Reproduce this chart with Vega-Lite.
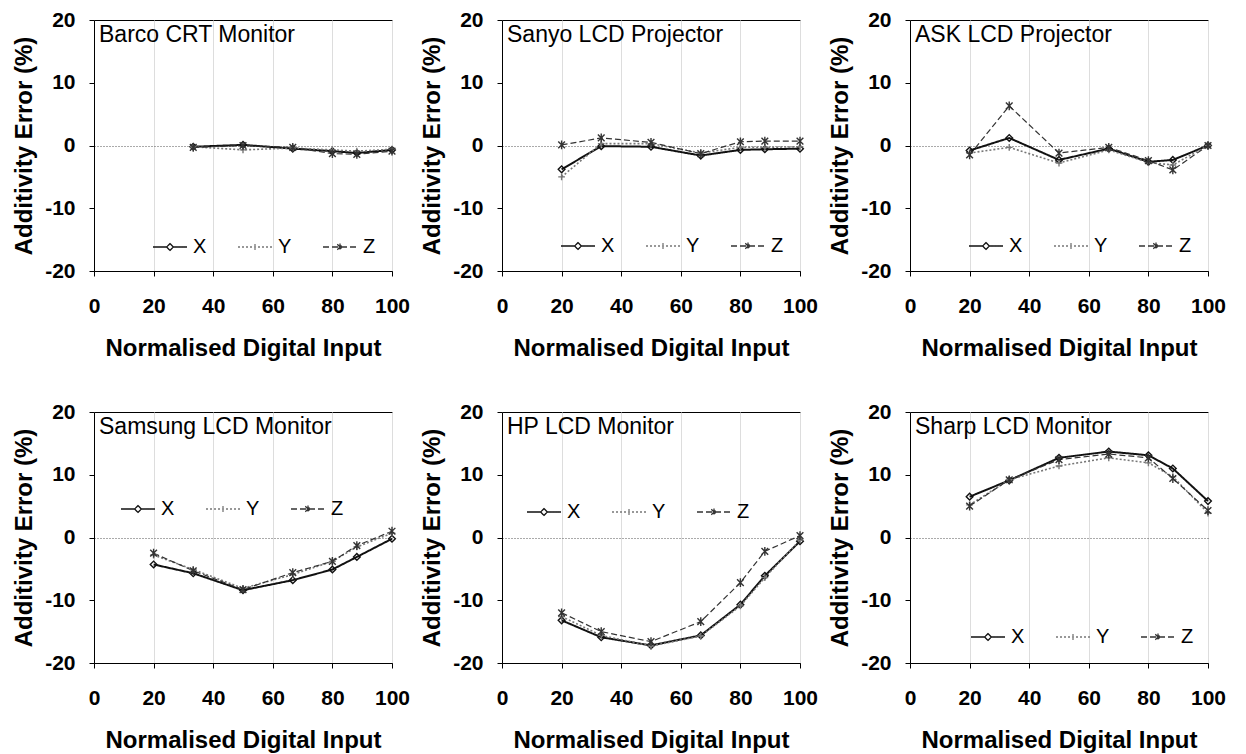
{
  "$schema": "https://vega.github.io/schema/vega-lite/v6.json",
  "background": "white",
  "padding": {"left": 12, "top": 8, "right": 4, "bottom": 0},
  "columns": 3,
  "spacing": {"row": 39, "column": 9},
  "datasets": {
    "d": [
      {"panel": "Barco CRT Monitor", "series": "X", "input": 33.3, "error": -0.2},
      {"panel": "Barco CRT Monitor", "series": "X", "input": 50, "error": 0.1},
      {"panel": "Barco CRT Monitor", "series": "X", "input": 66.7, "error": -0.5},
      {"panel": "Barco CRT Monitor", "series": "X", "input": 80, "error": -0.9},
      {"panel": "Barco CRT Monitor", "series": "X", "input": 88.2, "error": -1.2},
      {"panel": "Barco CRT Monitor", "series": "X", "input": 100, "error": -0.7},
      {"panel": "Barco CRT Monitor", "series": "Y", "input": 33.3, "error": -0.2},
      {"panel": "Barco CRT Monitor", "series": "Y", "input": 50, "error": -0.7},
      {"panel": "Barco CRT Monitor", "series": "Y", "input": 66.7, "error": -0.4},
      {"panel": "Barco CRT Monitor", "series": "Y", "input": 80, "error": -0.7},
      {"panel": "Barco CRT Monitor", "series": "Y", "input": 88.2, "error": -0.9},
      {"panel": "Barco CRT Monitor", "series": "Y", "input": 100, "error": -0.6},
      {"panel": "Barco CRT Monitor", "series": "Z", "input": 33.3, "error": -0.3},
      {"panel": "Barco CRT Monitor", "series": "Z", "input": 50, "error": 0.0},
      {"panel": "Barco CRT Monitor", "series": "Z", "input": 66.7, "error": -0.3},
      {"panel": "Barco CRT Monitor", "series": "Z", "input": 80, "error": -1.3},
      {"panel": "Barco CRT Monitor", "series": "Z", "input": 88.2, "error": -1.4},
      {"panel": "Barco CRT Monitor", "series": "Z", "input": 100, "error": -0.9},

      {"panel": "Sanyo LCD Projector", "series": "X", "input": 20, "error": -3.8},
      {"panel": "Sanyo LCD Projector", "series": "X", "input": 33.3, "error": -0.1},
      {"panel": "Sanyo LCD Projector", "series": "X", "input": 50, "error": -0.2},
      {"panel": "Sanyo LCD Projector", "series": "X", "input": 66.7, "error": -1.6},
      {"panel": "Sanyo LCD Projector", "series": "X", "input": 80, "error": -0.7},
      {"panel": "Sanyo LCD Projector", "series": "X", "input": 88.2, "error": -0.6},
      {"panel": "Sanyo LCD Projector", "series": "X", "input": 100, "error": -0.5},
      {"panel": "Sanyo LCD Projector", "series": "Y", "input": 20, "error": -5.0},
      {"panel": "Sanyo LCD Projector", "series": "Y", "input": 33.3, "error": 0.3},
      {"panel": "Sanyo LCD Projector", "series": "Y", "input": 50, "error": 0.3},
      {"panel": "Sanyo LCD Projector", "series": "Y", "input": 66.7, "error": -1.2},
      {"panel": "Sanyo LCD Projector", "series": "Y", "input": 80, "error": -0.3},
      {"panel": "Sanyo LCD Projector", "series": "Y", "input": 88.2, "error": -0.3},
      {"panel": "Sanyo LCD Projector", "series": "Y", "input": 100, "error": -0.2},
      {"panel": "Sanyo LCD Projector", "series": "Z", "input": 20, "error": 0.1},
      {"panel": "Sanyo LCD Projector", "series": "Z", "input": 33.3, "error": 1.2},
      {"panel": "Sanyo LCD Projector", "series": "Z", "input": 50, "error": 0.5},
      {"panel": "Sanyo LCD Projector", "series": "Z", "input": 66.7, "error": -1.3},
      {"panel": "Sanyo LCD Projector", "series": "Z", "input": 80, "error": 0.6},
      {"panel": "Sanyo LCD Projector", "series": "Z", "input": 88.2, "error": 0.7},
      {"panel": "Sanyo LCD Projector", "series": "Z", "input": 100, "error": 0.7},

      {"panel": "ASK LCD Projector", "series": "X", "input": 20, "error": -0.8},
      {"panel": "ASK LCD Projector", "series": "X", "input": 33.3, "error": 1.2},
      {"panel": "ASK LCD Projector", "series": "X", "input": 50, "error": -2.3},
      {"panel": "ASK LCD Projector", "series": "X", "input": 66.7, "error": -0.5},
      {"panel": "ASK LCD Projector", "series": "X", "input": 80, "error": -2.6},
      {"panel": "ASK LCD Projector", "series": "X", "input": 88.2, "error": -2.3},
      {"panel": "ASK LCD Projector", "series": "X", "input": 100, "error": 0.0},
      {"panel": "ASK LCD Projector", "series": "Y", "input": 20, "error": -1.2},
      {"panel": "ASK LCD Projector", "series": "Y", "input": 33.3, "error": -0.3},
      {"panel": "ASK LCD Projector", "series": "Y", "input": 50, "error": -2.8},
      {"panel": "ASK LCD Projector", "series": "Y", "input": 66.7, "error": -0.7},
      {"panel": "ASK LCD Projector", "series": "Y", "input": 80, "error": -2.7},
      {"panel": "ASK LCD Projector", "series": "Y", "input": 88.2, "error": -3.1},
      {"panel": "ASK LCD Projector", "series": "Y", "input": 100, "error": 0.0},
      {"panel": "ASK LCD Projector", "series": "Z", "input": 20, "error": -1.5},
      {"panel": "ASK LCD Projector", "series": "Z", "input": 33.3, "error": 6.3},
      {"panel": "ASK LCD Projector", "series": "Z", "input": 50, "error": -1.2},
      {"panel": "ASK LCD Projector", "series": "Z", "input": 66.7, "error": -0.3},
      {"panel": "ASK LCD Projector", "series": "Z", "input": 80, "error": -2.4},
      {"panel": "ASK LCD Projector", "series": "Z", "input": 88.2, "error": -3.9},
      {"panel": "ASK LCD Projector", "series": "Z", "input": 100, "error": 0.0},

      {"panel": "Samsung LCD Monitor", "series": "X", "input": 20, "error": -4.3},
      {"panel": "Samsung LCD Monitor", "series": "X", "input": 33.3, "error": -5.7},
      {"panel": "Samsung LCD Monitor", "series": "X", "input": 50, "error": -8.4},
      {"panel": "Samsung LCD Monitor", "series": "X", "input": 66.7, "error": -6.8},
      {"panel": "Samsung LCD Monitor", "series": "X", "input": 80, "error": -5.1},
      {"panel": "Samsung LCD Monitor", "series": "X", "input": 88.2, "error": -3.1},
      {"panel": "Samsung LCD Monitor", "series": "X", "input": 100, "error": -0.2},
      {"panel": "Samsung LCD Monitor", "series": "Y", "input": 20, "error": -2.8},
      {"panel": "Samsung LCD Monitor", "series": "Y", "input": 33.3, "error": -5.1},
      {"panel": "Samsung LCD Monitor", "series": "Y", "input": 50, "error": -8.1},
      {"panel": "Samsung LCD Monitor", "series": "Y", "input": 66.7, "error": -5.9},
      {"panel": "Samsung LCD Monitor", "series": "Y", "input": 80, "error": -3.8},
      {"panel": "Samsung LCD Monitor", "series": "Y", "input": 88.2, "error": -1.5},
      {"panel": "Samsung LCD Monitor", "series": "Y", "input": 100, "error": 0.7},
      {"panel": "Samsung LCD Monitor", "series": "Z", "input": 20, "error": -2.5},
      {"panel": "Samsung LCD Monitor", "series": "Z", "input": 33.3, "error": -5.3},
      {"panel": "Samsung LCD Monitor", "series": "Z", "input": 50, "error": -8.3},
      {"panel": "Samsung LCD Monitor", "series": "Z", "input": 66.7, "error": -5.6},
      {"panel": "Samsung LCD Monitor", "series": "Z", "input": 80, "error": -3.8},
      {"panel": "Samsung LCD Monitor", "series": "Z", "input": 88.2, "error": -1.3},
      {"panel": "Samsung LCD Monitor", "series": "Z", "input": 100, "error": 1.0},

      {"panel": "HP LCD Monitor", "series": "X", "input": 20, "error": -13.2},
      {"panel": "HP LCD Monitor", "series": "X", "input": 33.3, "error": -15.9},
      {"panel": "HP LCD Monitor", "series": "X", "input": 50, "error": -17.2},
      {"panel": "HP LCD Monitor", "series": "X", "input": 66.7, "error": -15.6},
      {"panel": "HP LCD Monitor", "series": "X", "input": 80, "error": -10.7},
      {"panel": "HP LCD Monitor", "series": "X", "input": 88.2, "error": -6.1},
      {"panel": "HP LCD Monitor", "series": "X", "input": 100, "error": -0.6},
      {"panel": "HP LCD Monitor", "series": "Y", "input": 20, "error": -12.6},
      {"panel": "HP LCD Monitor", "series": "Y", "input": 33.3, "error": -15.6},
      {"panel": "HP LCD Monitor", "series": "Y", "input": 50, "error": -17.3},
      {"panel": "HP LCD Monitor", "series": "Y", "input": 66.7, "error": -15.7},
      {"panel": "HP LCD Monitor", "series": "Y", "input": 80, "error": -10.9},
      {"panel": "HP LCD Monitor", "series": "Y", "input": 88.2, "error": -6.4},
      {"panel": "HP LCD Monitor", "series": "Y", "input": 100, "error": -0.4},
      {"panel": "HP LCD Monitor", "series": "Z", "input": 20, "error": -12.0},
      {"panel": "HP LCD Monitor", "series": "Z", "input": 33.3, "error": -15.0},
      {"panel": "HP LCD Monitor", "series": "Z", "input": 50, "error": -16.6},
      {"panel": "HP LCD Monitor", "series": "Z", "input": 66.7, "error": -13.4},
      {"panel": "HP LCD Monitor", "series": "Z", "input": 80, "error": -7.2},
      {"panel": "HP LCD Monitor", "series": "Z", "input": 88.2, "error": -2.2},
      {"panel": "HP LCD Monitor", "series": "Z", "input": 100, "error": 0.3},

      {"panel": "Sharp LCD Monitor", "series": "X", "input": 20, "error": 6.5},
      {"panel": "Sharp LCD Monitor", "series": "X", "input": 33.3, "error": 9.1},
      {"panel": "Sharp LCD Monitor", "series": "X", "input": 50, "error": 12.7},
      {"panel": "Sharp LCD Monitor", "series": "X", "input": 66.7, "error": 13.7},
      {"panel": "Sharp LCD Monitor", "series": "X", "input": 80, "error": 13.1},
      {"panel": "Sharp LCD Monitor", "series": "X", "input": 88.2, "error": 11.0},
      {"panel": "Sharp LCD Monitor", "series": "X", "input": 100, "error": 5.8},
      {"panel": "Sharp LCD Monitor", "series": "Y", "input": 20, "error": 5.2},
      {"panel": "Sharp LCD Monitor", "series": "Y", "input": 33.3, "error": 9.2},
      {"panel": "Sharp LCD Monitor", "series": "Y", "input": 50, "error": 11.4},
      {"panel": "Sharp LCD Monitor", "series": "Y", "input": 66.7, "error": 12.7},
      {"panel": "Sharp LCD Monitor", "series": "Y", "input": 80, "error": 11.9},
      {"panel": "Sharp LCD Monitor", "series": "Y", "input": 88.2, "error": 9.7},
      {"panel": "Sharp LCD Monitor", "series": "Y", "input": 100, "error": 3.9},
      {"panel": "Sharp LCD Monitor", "series": "Z", "input": 20, "error": 5.0},
      {"panel": "Sharp LCD Monitor", "series": "Z", "input": 33.3, "error": 9.2},
      {"panel": "Sharp LCD Monitor", "series": "Z", "input": 50, "error": 12.4},
      {"panel": "Sharp LCD Monitor", "series": "Z", "input": 66.7, "error": 13.3},
      {"panel": "Sharp LCD Monitor", "series": "Z", "input": 80, "error": 12.7},
      {"panel": "Sharp LCD Monitor", "series": "Z", "input": 88.2, "error": 9.4},
      {"panel": "Sharp LCD Monitor", "series": "Z", "input": 100, "error": 4.3}
    ]
  },
  "data": {"name": "d"},
  "resolve": {
    "scale": {"color": "independent", "shape": "independent", "strokeDash": "independent", "strokeWidth": "independent"},
    "legend": {"color": "independent", "shape": "independent", "strokeDash": "independent"}
  },
  "concat": [
    {
      "title": "Barco CRT Monitor",
      "width": 298, "height": 251,
      "transform": [{"filter": "datum.panel === 'Barco CRT Monitor'"}],
      "encoding": {
        "x": {"field": "input", "type": "quantitative", "title": "Normalised Digital Input", "scale": {"domain": [0, 100], "nice": false}, "axis": {"values": [0, 20, 40, 60, 80, 100], "labelExpr": "'' + datum.value"}},
        "y": {"field": "error", "type": "quantitative", "title": "Additivity Error (%)", "scale": {"domain": [-20, 20], "nice": false}, "axis": {"values": [-20, -10, 0, 10, 20], "labelExpr": "'' + datum.value", "grid": true, "gridDash": [1, 2], "gridColor": "#555", "gridOpacity": {"condition": {"test": "datum.value === 0", "value": 1}, "value": 0}}}
      },
      "layer": [
        {"mark": {"type": "line"}, "encoding": {
          "color": {"field": "series", "type": "nominal", "scale": {"domain": ["X", "Y", "Z"], "range": ["#111", "#777", "#333"]}, "legend": null},
          "strokeDash": {"field": "series", "type": "nominal", "scale": {"domain": ["X", "Y", "Z"], "range": [[1, 0], [2, 2], [6, 3]]}, "legend": null},
          "strokeWidth": {"field": "series", "type": "nominal", "scale": {"domain": ["X", "Y", "Z"], "range": [2, 1.2, 1.3]}, "legend": null}
        }},
        {"mark": {"type": "point", "filled": false, "size": 45, "strokeWidth": 1.4, "opacity": 1}, "encoding": {
          "shape": {"field": "series", "type": "nominal", "scale": {"domain": ["X", "Y", "Z"], "range": ["diamond", "M-1,0L1,0M0,-1L0,1", "M-1,-1L1,1M-1,1L1,-1M0,-1.3L0,1.3"]}, "legend": null},
          "color": {"field": "series", "type": "nominal", "scale": {"domain": ["X", "Y", "Z"], "range": ["#111", "#777", "#333"]}, "legend": null}
        }},
        {"mark": {"type": "point", "filled": false, "opacity": 0}, "encoding": {
          "shape": {"field": "series", "type": "nominal", "title": null, "scale": {"domain": ["X", "Y", "Z"], "range": ["M-1,0L-0.2,0M0.2,0L1,0M0,-0.2L0.2,0L0,0.2L-0.2,0Z", "M-1,0L1,0M0,-0.17L0,0.17", "M-1,0L1,0M-0.16,-0.16L0.16,0.16M-0.16,0.16L0.16,-0.16M0,-0.2L0,0.2"]}, "legend": {"legendX": 58, "legendY": 209}},
          "color": {"field": "series", "type": "nominal", "title": null, "scale": {"domain": ["X", "Y", "Z"], "range": ["#111", "#777", "#333"]}, "legend": {"legendX": 58, "legendY": 209}},
          "strokeDash": {"field": "series", "type": "nominal", "title": null, "scale": {"domain": ["X", "Y", "Z"], "range": [[1, 0], [2, 2], [6, 3]]}, "legend": {"legendX": 58, "legendY": 209}}
        }}
      ],
      "resolve": {"scale": {"color": "independent", "shape": "independent", "strokeDash": "independent"}}
    },
    {
      "title": "Sanyo LCD Projector",
      "width": 298, "height": 251,
      "transform": [{"filter": "datum.panel === 'Sanyo LCD Projector'"}],
      "encoding": {
        "x": {"field": "input", "type": "quantitative", "title": "Normalised Digital Input", "scale": {"domain": [0, 100], "nice": false}, "axis": {"values": [0, 20, 40, 60, 80, 100], "labelExpr": "'' + datum.value"}},
        "y": {"field": "error", "type": "quantitative", "title": "Additivity Error (%)", "scale": {"domain": [-20, 20], "nice": false}, "axis": {"values": [-20, -10, 0, 10, 20], "labelExpr": "'' + datum.value", "grid": true, "gridDash": [1, 2], "gridColor": "#555", "gridOpacity": {"condition": {"test": "datum.value === 0", "value": 1}, "value": 0}}}
      },
      "layer": [
        {"mark": {"type": "line"}, "encoding": {
          "color": {"field": "series", "type": "nominal", "scale": {"domain": ["X", "Y", "Z"], "range": ["#111", "#777", "#333"]}, "legend": null},
          "strokeDash": {"field": "series", "type": "nominal", "scale": {"domain": ["X", "Y", "Z"], "range": [[1, 0], [2, 2], [6, 3]]}, "legend": null},
          "strokeWidth": {"field": "series", "type": "nominal", "scale": {"domain": ["X", "Y", "Z"], "range": [2, 1.2, 1.3]}, "legend": null}
        }},
        {"mark": {"type": "point", "filled": false, "size": 45, "strokeWidth": 1.4, "opacity": 1}, "encoding": {
          "shape": {"field": "series", "type": "nominal", "scale": {"domain": ["X", "Y", "Z"], "range": ["diamond", "M-1,0L1,0M0,-1L0,1", "M-1,-1L1,1M-1,1L1,-1M0,-1.3L0,1.3"]}, "legend": null},
          "color": {"field": "series", "type": "nominal", "scale": {"domain": ["X", "Y", "Z"], "range": ["#111", "#777", "#333"]}, "legend": null}
        }},
        {"mark": {"type": "point", "filled": false, "opacity": 0}, "encoding": {
          "shape": {"field": "series", "type": "nominal", "title": null, "scale": {"domain": ["X", "Y", "Z"], "range": ["M-1,0L-0.2,0M0.2,0L1,0M0,-0.2L0.2,0L0,0.2L-0.2,0Z", "M-1,0L1,0M0,-0.17L0,0.17", "M-1,0L1,0M-0.16,-0.16L0.16,0.16M-0.16,0.16L0.16,-0.16M0,-0.2L0,0.2"]}, "legend": {"legendX": 58, "legendY": 208}},
          "color": {"field": "series", "type": "nominal", "title": null, "scale": {"domain": ["X", "Y", "Z"], "range": ["#111", "#777", "#333"]}, "legend": {"legendX": 58, "legendY": 208}},
          "strokeDash": {"field": "series", "type": "nominal", "title": null, "scale": {"domain": ["X", "Y", "Z"], "range": [[1, 0], [2, 2], [6, 3]]}, "legend": {"legendX": 58, "legendY": 208}}
        }}
      ],
      "resolve": {"scale": {"color": "independent", "shape": "independent", "strokeDash": "independent"}}
    },
    {
      "title": "ASK LCD Projector",
      "width": 298, "height": 251,
      "transform": [{"filter": "datum.panel === 'ASK LCD Projector'"}],
      "encoding": {
        "x": {"field": "input", "type": "quantitative", "title": "Normalised Digital Input", "scale": {"domain": [0, 100], "nice": false}, "axis": {"values": [0, 20, 40, 60, 80, 100], "labelExpr": "'' + datum.value"}},
        "y": {"field": "error", "type": "quantitative", "title": "Additivity Error (%)", "scale": {"domain": [-20, 20], "nice": false}, "axis": {"values": [-20, -10, 0, 10, 20], "labelExpr": "'' + datum.value", "grid": true, "gridDash": [1, 2], "gridColor": "#555", "gridOpacity": {"condition": {"test": "datum.value === 0", "value": 1}, "value": 0}}}
      },
      "layer": [
        {"mark": {"type": "line"}, "encoding": {
          "color": {"field": "series", "type": "nominal", "scale": {"domain": ["X", "Y", "Z"], "range": ["#111", "#777", "#333"]}, "legend": null},
          "strokeDash": {"field": "series", "type": "nominal", "scale": {"domain": ["X", "Y", "Z"], "range": [[1, 0], [2, 2], [6, 3]]}, "legend": null},
          "strokeWidth": {"field": "series", "type": "nominal", "scale": {"domain": ["X", "Y", "Z"], "range": [2, 1.2, 1.3]}, "legend": null}
        }},
        {"mark": {"type": "point", "filled": false, "size": 45, "strokeWidth": 1.4, "opacity": 1}, "encoding": {
          "shape": {"field": "series", "type": "nominal", "scale": {"domain": ["X", "Y", "Z"], "range": ["diamond", "M-1,0L1,0M0,-1L0,1", "M-1,-1L1,1M-1,1L1,-1M0,-1.3L0,1.3"]}, "legend": null},
          "color": {"field": "series", "type": "nominal", "scale": {"domain": ["X", "Y", "Z"], "range": ["#111", "#777", "#333"]}, "legend": null}
        }},
        {"mark": {"type": "point", "filled": false, "opacity": 0}, "encoding": {
          "shape": {"field": "series", "type": "nominal", "title": null, "scale": {"domain": ["X", "Y", "Z"], "range": ["M-1,0L-0.2,0M0.2,0L1,0M0,-0.2L0.2,0L0,0.2L-0.2,0Z", "M-1,0L1,0M0,-0.17L0,0.17", "M-1,0L1,0M-0.16,-0.16L0.16,0.16M-0.16,0.16L0.16,-0.16M0,-0.2L0,0.2"]}, "legend": {"legendX": 58, "legendY": 208}},
          "color": {"field": "series", "type": "nominal", "title": null, "scale": {"domain": ["X", "Y", "Z"], "range": ["#111", "#777", "#333"]}, "legend": {"legendX": 58, "legendY": 208}},
          "strokeDash": {"field": "series", "type": "nominal", "title": null, "scale": {"domain": ["X", "Y", "Z"], "range": [[1, 0], [2, 2], [6, 3]]}, "legend": {"legendX": 58, "legendY": 208}}
        }}
      ],
      "resolve": {"scale": {"color": "independent", "shape": "independent", "strokeDash": "independent"}}
    },
    {
      "title": "Samsung LCD Monitor",
      "width": 298, "height": 251,
      "transform": [{"filter": "datum.panel === 'Samsung LCD Monitor'"}],
      "encoding": {
        "x": {"field": "input", "type": "quantitative", "title": "Normalised Digital Input", "scale": {"domain": [0, 100], "nice": false}, "axis": {"values": [0, 20, 40, 60, 80, 100], "labelExpr": "'' + datum.value"}},
        "y": {"field": "error", "type": "quantitative", "title": "Additivity Error (%)", "scale": {"domain": [-20, 20], "nice": false}, "axis": {"values": [-20, -10, 0, 10, 20], "labelExpr": "'' + datum.value", "grid": true, "gridDash": [1, 2], "gridColor": "#555", "gridOpacity": {"condition": {"test": "datum.value === 0", "value": 1}, "value": 0}}}
      },
      "layer": [
        {"mark": {"type": "line"}, "encoding": {
          "color": {"field": "series", "type": "nominal", "scale": {"domain": ["X", "Y", "Z"], "range": ["#111", "#777", "#333"]}, "legend": null},
          "strokeDash": {"field": "series", "type": "nominal", "scale": {"domain": ["X", "Y", "Z"], "range": [[1, 0], [2, 2], [6, 3]]}, "legend": null},
          "strokeWidth": {"field": "series", "type": "nominal", "scale": {"domain": ["X", "Y", "Z"], "range": [2, 1.2, 1.3]}, "legend": null}
        }},
        {"mark": {"type": "point", "filled": false, "size": 45, "strokeWidth": 1.4, "opacity": 1}, "encoding": {
          "shape": {"field": "series", "type": "nominal", "scale": {"domain": ["X", "Y", "Z"], "range": ["diamond", "M-1,0L1,0M0,-1L0,1", "M-1,-1L1,1M-1,1L1,-1M0,-1.3L0,1.3"]}, "legend": null},
          "color": {"field": "series", "type": "nominal", "scale": {"domain": ["X", "Y", "Z"], "range": ["#111", "#777", "#333"]}, "legend": null}
        }},
        {"mark": {"type": "point", "filled": false, "opacity": 0}, "encoding": {
          "shape": {"field": "series", "type": "nominal", "title": null, "scale": {"domain": ["X", "Y", "Z"], "range": ["M-1,0L-0.2,0M0.2,0L1,0M0,-0.2L0.2,0L0,0.2L-0.2,0Z", "M-1,0L1,0M0,-0.17L0,0.17", "M-1,0L1,0M-0.16,-0.16L0.16,0.16M-0.16,0.16L0.16,-0.16M0,-0.2L0,0.2"]}, "legend": {"legendX": 26, "legendY": 79}},
          "color": {"field": "series", "type": "nominal", "title": null, "scale": {"domain": ["X", "Y", "Z"], "range": ["#111", "#777", "#333"]}, "legend": {"legendX": 26, "legendY": 79}},
          "strokeDash": {"field": "series", "type": "nominal", "title": null, "scale": {"domain": ["X", "Y", "Z"], "range": [[1, 0], [2, 2], [6, 3]]}, "legend": {"legendX": 26, "legendY": 79}}
        }}
      ],
      "resolve": {"scale": {"color": "independent", "shape": "independent", "strokeDash": "independent"}}
    },
    {
      "title": "HP LCD Monitor",
      "width": 298, "height": 251,
      "transform": [{"filter": "datum.panel === 'HP LCD Monitor'"}],
      "encoding": {
        "x": {"field": "input", "type": "quantitative", "title": "Normalised Digital Input", "scale": {"domain": [0, 100], "nice": false}, "axis": {"values": [0, 20, 40, 60, 80, 100], "labelExpr": "'' + datum.value"}},
        "y": {"field": "error", "type": "quantitative", "title": "Additivity Error (%)", "scale": {"domain": [-20, 20], "nice": false}, "axis": {"values": [-20, -10, 0, 10, 20], "labelExpr": "'' + datum.value", "grid": true, "gridDash": [1, 2], "gridColor": "#555", "gridOpacity": {"condition": {"test": "datum.value === 0", "value": 1}, "value": 0}}}
      },
      "layer": [
        {"mark": {"type": "line"}, "encoding": {
          "color": {"field": "series", "type": "nominal", "scale": {"domain": ["X", "Y", "Z"], "range": ["#111", "#777", "#333"]}, "legend": null},
          "strokeDash": {"field": "series", "type": "nominal", "scale": {"domain": ["X", "Y", "Z"], "range": [[1, 0], [2, 2], [6, 3]]}, "legend": null},
          "strokeWidth": {"field": "series", "type": "nominal", "scale": {"domain": ["X", "Y", "Z"], "range": [2, 1.2, 1.3]}, "legend": null}
        }},
        {"mark": {"type": "point", "filled": false, "size": 45, "strokeWidth": 1.4, "opacity": 1}, "encoding": {
          "shape": {"field": "series", "type": "nominal", "scale": {"domain": ["X", "Y", "Z"], "range": ["diamond", "M-1,0L1,0M0,-1L0,1", "M-1,-1L1,1M-1,1L1,-1M0,-1.3L0,1.3"]}, "legend": null},
          "color": {"field": "series", "type": "nominal", "scale": {"domain": ["X", "Y", "Z"], "range": ["#111", "#777", "#333"]}, "legend": null}
        }},
        {"mark": {"type": "point", "filled": false, "opacity": 0}, "encoding": {
          "shape": {"field": "series", "type": "nominal", "title": null, "scale": {"domain": ["X", "Y", "Z"], "range": ["M-1,0L-0.2,0M0.2,0L1,0M0,-0.2L0.2,0L0,0.2L-0.2,0Z", "M-1,0L1,0M0,-0.17L0,0.17", "M-1,0L1,0M-0.16,-0.16L0.16,0.16M-0.16,0.16L0.16,-0.16M0,-0.2L0,0.2"]}, "legend": {"legendX": 24, "legendY": 82}},
          "color": {"field": "series", "type": "nominal", "title": null, "scale": {"domain": ["X", "Y", "Z"], "range": ["#111", "#777", "#333"]}, "legend": {"legendX": 24, "legendY": 82}},
          "strokeDash": {"field": "series", "type": "nominal", "title": null, "scale": {"domain": ["X", "Y", "Z"], "range": [[1, 0], [2, 2], [6, 3]]}, "legend": {"legendX": 24, "legendY": 82}}
        }}
      ],
      "resolve": {"scale": {"color": "independent", "shape": "independent", "strokeDash": "independent"}}
    },
    {
      "title": "Sharp LCD Monitor",
      "width": 298, "height": 251,
      "transform": [{"filter": "datum.panel === 'Sharp LCD Monitor'"}],
      "encoding": {
        "x": {"field": "input", "type": "quantitative", "title": "Normalised Digital Input", "scale": {"domain": [0, 100], "nice": false}, "axis": {"values": [0, 20, 40, 60, 80, 100], "labelExpr": "'' + datum.value"}},
        "y": {"field": "error", "type": "quantitative", "title": "Additivity Error (%)", "scale": {"domain": [-20, 20], "nice": false}, "axis": {"values": [-20, -10, 0, 10, 20], "labelExpr": "'' + datum.value", "grid": true, "gridDash": [1, 2], "gridColor": "#555", "gridOpacity": {"condition": {"test": "datum.value === 0", "value": 1}, "value": 0}}}
      },
      "layer": [
        {"mark": {"type": "line"}, "encoding": {
          "color": {"field": "series", "type": "nominal", "scale": {"domain": ["X", "Y", "Z"], "range": ["#111", "#777", "#333"]}, "legend": null},
          "strokeDash": {"field": "series", "type": "nominal", "scale": {"domain": ["X", "Y", "Z"], "range": [[1, 0], [2, 2], [6, 3]]}, "legend": null},
          "strokeWidth": {"field": "series", "type": "nominal", "scale": {"domain": ["X", "Y", "Z"], "range": [2, 1.2, 1.3]}, "legend": null}
        }},
        {"mark": {"type": "point", "filled": false, "size": 45, "strokeWidth": 1.4, "opacity": 1}, "encoding": {
          "shape": {"field": "series", "type": "nominal", "scale": {"domain": ["X", "Y", "Z"], "range": ["diamond", "M-1,0L1,0M0,-1L0,1", "M-1,-1L1,1M-1,1L1,-1M0,-1.3L0,1.3"]}, "legend": null},
          "color": {"field": "series", "type": "nominal", "scale": {"domain": ["X", "Y", "Z"], "range": ["#111", "#777", "#333"]}, "legend": null}
        }},
        {"mark": {"type": "point", "filled": false, "opacity": 0}, "encoding": {
          "shape": {"field": "series", "type": "nominal", "title": null, "scale": {"domain": ["X", "Y", "Z"], "range": ["M-1,0L-0.2,0M0.2,0L1,0M0,-0.2L0.2,0L0,0.2L-0.2,0Z", "M-1,0L1,0M0,-0.17L0,0.17", "M-1,0L1,0M-0.16,-0.16L0.16,0.16M-0.16,0.16L0.16,-0.16M0,-0.2L0,0.2"]}, "legend": {"legendX": 60, "legendY": 207}},
          "color": {"field": "series", "type": "nominal", "title": null, "scale": {"domain": ["X", "Y", "Z"], "range": ["#111", "#777", "#333"]}, "legend": {"legendX": 60, "legendY": 207}},
          "strokeDash": {"field": "series", "type": "nominal", "title": null, "scale": {"domain": ["X", "Y", "Z"], "range": [[1, 0], [2, 2], [6, 3]]}, "legend": {"legendX": 60, "legendY": 207}}
        }}
      ],
      "resolve": {"scale": {"color": "independent", "shape": "independent", "strokeDash": "independent"}}
    }
  ],
  "config": {
    "font": "Liberation Sans",
    "view": {"stroke": "#000", "strokeWidth": 1},
    "axis": {
      "labelFont": "Liberation Sans", "labelFontSize": 21, "labelFontWeight": "bold", "labelColor": "#000",
      "titleFont": "Liberation Sans", "titleFontSize": 24, "titleFontWeight": "bold", "titleColor": "#000",
      "domainColor": "#000", "tickColor": "#000", "tickSize": 5, "labelFlush": false, "labelOverlap": false
    },
    "axisX": {"labelPadding": 19, "titlePadding": 20},
    "axisY": {"labelPadding": 14, "titlePadding": 8},
    "title": {"font": "Liberation Sans", "fontSize": 23, "fontWeight": "normal", "color": "#000", "anchor": "start", "frame": "group", "orient": "top", "offset": -38, "dx": 5},
    "legend": {
      "orient": "none", "direction": "horizontal", "padding": 0,
      "labelFont": "Liberation Sans", "labelFontSize": 20, "labelColor": "#000",
      "symbolSize": 1156, "symbolStrokeWidth": 1.3, "symbolOpacity": 1,
      "columnPadding": 28, "labelOffset": 5
    }
  }
}
